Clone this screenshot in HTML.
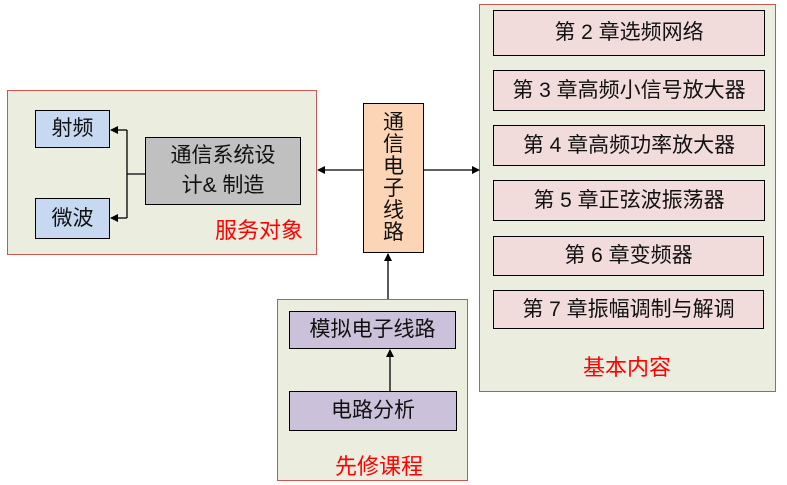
<!DOCTYPE html>
<html><head><meta charset="utf-8"><style>
body{margin:0;width:787px;height:485px;background:#fff;position:relative;overflow:hidden;font-family:"Liberation Sans","Noto Sans CJK SC",sans-serif;}
div{position:absolute;box-sizing:border-box;}
.c{background:#ebeedf;border:1.5px solid #c9574f;}
.b{border:1.5px solid #000;display:flex;align-items:center;justify-content:center;font-size:21px;color:#111;text-align:center;line-height:30px;}
.blue{background:#c6d9f1;}
.pink{background:#f2dcdb;}
.pur{background:#ccc1da;}
.red{color:#f00;font-size:22px;}
</style></head><body>
<div class="c" style="left:7px;top:90px;width:310px;height:165px"></div>
<div class="c" style="left:479px;top:4px;width:297px;height:388px"></div>
<div class="c" style="left:277px;top:299px;width:191px;height:182px"></div>
<div class="b blue" style="left:35px;top:110px;width:75px;height:38px">射频</div>
<div class="b blue" style="left:35px;top:198px;width:75px;height:41px">微波</div>
<div class="b" style="left:145px;top:137px;width:156px;height:68px;background:#c0c0c0">通信系统设<br>计&amp; 制造</div>
<div class="red" style="left:215px;top:213px">服务对象</div>
<div class="b" style="left:363px;top:103px;width:61px;height:150px;background:#fbd5b5;line-height:22px">通<br>信<br>电<br>子<br>线<br>路</div>
<div class="b pink" style="left:493px;top:10px;width:272px;height:46px">第 2 章选频网络</div>
<div class="b pink" style="left:493px;top:70px;width:272px;height:41px">第 3 章高频小信号放大器</div>
<div class="b pink" style="left:493px;top:125px;width:272px;height:41px">第 4 章高频功率放大器</div>
<div class="b pink" style="left:493px;top:180px;width:272px;height:41px">第 5 章正弦波振荡器</div>
<div class="b pink" style="left:493px;top:236px;width:271px;height:40px">第 6 章变频器</div>
<div class="b pink" style="left:493px;top:290px;width:271px;height:39px">第 7 章振幅调制与解调</div>
<div class="red" style="left:583px;top:350px">基本内容</div>
<div class="b pur" style="left:289px;top:311px;width:167px;height:38px">模拟电子线路</div>
<div class="b pur" style="left:289px;top:391px;width:168px;height:40px">电路分析</div>
<div class="red" style="left:335px;top:449px">先修课程</div>
<svg width="787" height="485" style="position:absolute;left:0;top:0">
<defs><marker id="a" markerWidth="8" markerHeight="8" refX="7" refY="4" orient="auto" markerUnits="userSpaceOnUse"><path d="M0,0L8,4L0,8z" fill="#000"/></marker></defs>
<g stroke="#000" stroke-width="1.3" fill="none">
<path d="M145,174H127"/>
<path d="M127,130V218"/>
<path d="M127,130H111" marker-end="url(#a)"/>
<path d="M127,218H111" marker-end="url(#a)"/>
<path d="M363,170H318" marker-end="url(#a)"/>
<path d="M424,170H479" marker-end="url(#a)"/>
<path d="M388,299V254" marker-end="url(#a)"/>
<path d="M390,391V350" marker-end="url(#a)"/>
</g></svg>
</body></html>
